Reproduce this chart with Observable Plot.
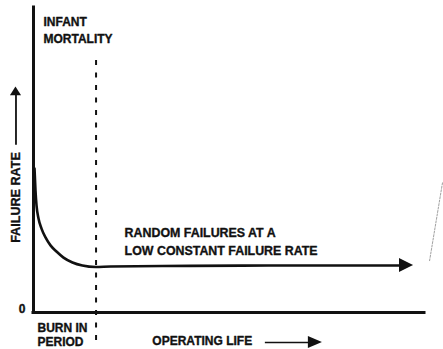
<!DOCTYPE html>
<html>
<head>
<meta charset="utf-8">
<script src="https://cdn.jsdelivr.net/npm/d3@7"></script>
<script src="https://cdn.jsdelivr.net/npm/@observablehq/plot@0.6"></script>
<style>
  html, body { margin: 0; padding: 0; background: #fff; }
  svg { display: block; }
</style>
</head>
<body>
<div id="chart"></div>
<script>
// Operating life (arbitrary units, 0–100) and failure rate (arbitrary units, 0–100)
const life        = [0.26, 0.51, 0.77, 1.28, 2.05, 3.07, 4.35, 5.88, 7.67, 9.97, 12.5, 15.9, 19.7, 40, 60, 80, 93.9];
const failureRate = [47.2, 40.0, 35.1, 30.8, 27.5, 24.6, 22.0, 20.0, 18.0, 16.4, 15.4, 14.9, 15.1, 15.3, 15.4, 15.4, 15.4];

// End of the burn-in period on the operating-life axis
const burnInEnd = [16.0];

// Text labels
const infantLabel = ["INFANT", "MORTALITY"];
const randomLabel = ["RANDOM FAILURES AT A", "LOW CONSTANT FAILURE RATE"];
const burnInLabel = ["BURN IN", "PERIOD"];
const xTitle = ["OPERATING LIFE"];
const yTitle = ["FAILURE RATE"];
const zeroTick = ["0"];

const curve = life.map((x, i) => ({x, y: failureRate[i]}));
const ink = "#111";
const font = "'Liberation Sans', Arial, Helvetica, sans-serif";
const txt = {fontWeight: "bold", fill: ink, stroke: ink, strokeWidth: 0.35};

const chart = Plot.plot({
  width: 443,
  height: 349,
  marginLeft: 33,
  marginRight: 19,
  marginTop: 7,
  marginBottom: 37,
  x: {domain: [0, 100], axis: null},
  y: {domain: [0, 100], axis: null},
  style: {fontFamily: font, background: "#fff", overflow: "visible"},
  marks: [
    // axes
    Plot.ruleX([0], {y1: 0, y2: 100, stroke: ink, strokeWidth: 3, strokeLinecap: "square"}),
    Plot.ruleY([0], {x1: 0, x2: 100, stroke: ink, strokeWidth: 3, strokeLinecap: "square"}),
    // burn-in boundary
    Plot.ruleX(burnInEnd, {y1: -9.2, y2: 83.6, stroke: ink, strokeWidth: 2, strokeDasharray: "5,7.5"}),
    // failure-rate curve with arrow
    Plot.line(curve, {x: "x", y: "y", stroke: ink, strokeWidth: 2.6, curve: "monotone-x"}),
    Plot.areaY([{x: 93.6, y1: 13.1, y2: 17.7}, {x: 97.2, y1: 15.4, y2: 15.4}], {x: "x", y1: "y1", y2: "y2", fill: ink}),
    // y title arrow
    Plot.ruleX([-4.48], {y1: 54.8, y2: 71.5, stroke: ink, strokeWidth: 1.8}),
    Plot.areaX([{y: 71.1, x1: -5.9, x2: -3.06}, {y: 73.9, x1: -4.48, x2: -4.48}], {y: "y", x1: "x1", x2: "x2", fill: ink}),
    // x title arrow
    Plot.ruleY([-9.84], {x1: 59.3, x2: 71, stroke: ink, strokeWidth: 1.5}),
    Plot.areaY([{x: 70.3, y1: -11.8, y2: -7.9}, {x: 73.9, y1: -9.84, y2: -9.84}], {x: "x", y1: "y1", y2: "y2", fill: ink}),
    // faint scan line at right edge
    Plot.line([{x: 104.6, y: 42.5}, {x: 101.3, y: 17.0}], {x: "x", y: "y", stroke: "#777", strokeWidth: 0.7, strokeDasharray: "2,1.5"}),
    // texts
    Plot.text([infantLabel.join("\n")], {x: 2.56, y: 88.5, text: d => d, textAnchor: "start", lineAnchor: "bottom", lineHeight: 1.42, fontSize: 12, ...txt}),
    Plot.text([randomLabel.join("\n")], {x: 23.3, y: 18.7, text: d => d, textAnchor: "start", lineAnchor: "bottom", lineHeight: 1.5, fontSize: 12.4, ...txt}),
    Plot.text([burnInLabel.join("\n")], {x: 1.02, y: -11.0, text: d => d, textAnchor: "start", lineAnchor: "bottom", lineHeight: 1.15, fontSize: 12, ...txt}),
    Plot.text(xTitle, {x: 30.4, y: -10.8, text: d => d, textAnchor: "start", lineAnchor: "bottom", fontSize: 12, ...txt}),
    Plot.text(zeroTick, {x: -2.05, y: 0, text: d => d, textAnchor: "end", lineAnchor: "bottom", fontSize: 12, ...txt}),
    Plot.text(yTitle, {x: -4.6, y: 37.7, text: d => d, rotate: -90, textAnchor: "middle", lineAnchor: "middle", fontSize: 12.6, ...txt})
  ]
});
document.getElementById("chart").append(chart);
</script>
</body>
</html>
